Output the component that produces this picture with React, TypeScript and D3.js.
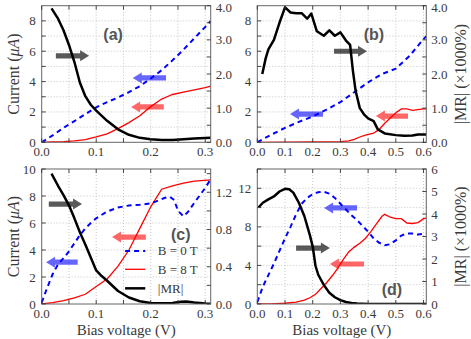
import React from 'react';
import * as d3 from 'd3';

type Pt = [number, number];

// ---------- Panel (a) ----------
const aB0: Pt[] = [[0,0],[0.02,0.45],[0.04,0.95],[0.06,1.4],[0.08,1.85],[0.10,2.3],[0.12,2.65],[0.14,2.95],[0.16,3.3],[0.18,3.7],[0.20,4.2],[0.22,4.75],[0.24,5.4],[0.26,6.1],[0.28,6.85],[0.30,7.6],[0.31,8.0]];
const aB8: Pt[] = [[0,0],[0.02,0.02],[0.04,0.05],[0.06,0.1],[0.08,0.18],[0.10,0.35],[0.12,0.55],[0.14,0.9],[0.16,1.3],[0.18,1.75],[0.20,2.35],[0.22,2.85],[0.23,3.0],[0.24,3.15],[0.26,3.3],[0.28,3.45],[0.30,3.6],[0.31,3.7]];
const aMR: Pt[] = [[0.018,3.92],[0.03,3.62],[0.04,3.28],[0.05,2.85],[0.06,2.35],[0.07,1.75],[0.08,1.35],[0.09,1.1],[0.10,0.93],[0.12,0.63],[0.14,0.38],[0.16,0.22],[0.18,0.13],[0.20,0.09],[0.22,0.07],[0.24,0.07],[0.26,0.09],[0.28,0.11],[0.31,0.13]];

// ---------- Panel (b) ----------
const bB0: Pt[] = [[0,0],[0.05,0.5],[0.1,0.95],[0.15,1.35],[0.2,1.7],[0.25,2.15],[0.3,2.65],[0.35,3.3],[0.4,3.95],[0.45,4.5],[0.5,4.85],[0.55,5.7],[0.6,6.8],[0.61,7.0]];
const bB8: Pt[] = [[0,0],[0.1,0.01],[0.2,0.02],[0.3,0.05],[0.33,0.1],[0.35,0.2],[0.37,0.35],[0.39,0.48],[0.42,0.6],[0.44,0.85],[0.46,1.25],[0.48,1.6],[0.50,1.95],[0.52,2.2],[0.54,2.2],[0.56,2.1],[0.58,2.15],[0.60,2.2],[0.61,2.2]];
const bMR: Pt[] = [[0.018,2.0],[0.03,2.45],[0.04,2.72],[0.06,3.0],[0.08,3.5],[0.10,3.95],[0.12,3.8],[0.14,3.78],[0.16,3.78],[0.18,3.62],[0.195,3.77],[0.215,3.25],[0.24,3.12],[0.26,3.28],[0.28,3.12],[0.30,3.22],[0.32,2.98],[0.335,2.85],[0.345,2.1],[0.355,1.5],[0.37,1.0],[0.385,0.82],[0.40,0.7],[0.42,0.62],[0.435,0.38],[0.46,0.26],[0.50,0.21],[0.53,0.19],[0.56,0.2],[0.58,0.23],[0.61,0.23]];

// ---------- Panel (c) ----------
const cB0: Pt[] = [[0,0.1],[0.01,1.2],[0.02,2.2],[0.03,2.95],[0.04,3.4],[0.05,3.9],[0.06,4.5],[0.07,5.1],[0.08,5.6],[0.09,6.0],[0.10,6.35],[0.12,6.85],[0.14,7.15],[0.16,7.3],[0.18,7.35],[0.20,7.45],[0.21,7.6],[0.225,7.85],[0.235,7.95],[0.243,7.7],[0.25,6.9],[0.26,6.5],[0.268,6.8],[0.28,7.5],[0.29,8.05],[0.30,8.6],[0.31,9.25]];
const cB8: Pt[] = [[0,0],[0.02,0.1],[0.04,0.25],[0.06,0.45],[0.08,0.72],[0.10,1.3],[0.12,1.85],[0.14,2.8],[0.16,4.0],[0.18,5.6],[0.20,7.2],[0.22,8.5],[0.24,8.75],[0.26,8.95],[0.28,9.1],[0.31,9.2]];
const cMR: Pt[] = [[0.018,1.4],[0.03,1.27],[0.04,1.17],[0.05,1.06],[0.06,0.92],[0.07,0.77],[0.08,0.64],[0.09,0.5],[0.10,0.36],[0.11,0.3],[0.12,0.25],[0.14,0.14],[0.16,0.07],[0.18,0.03],[0.20,0.01],[0.22,0.008],[0.24,0.012],[0.255,0.025],[0.265,0.028],[0.28,0.015],[0.30,0.005],[0.31,0.003]];

// ---------- Panel (d) ----------
const dB0: Pt[] = [[0,0.2],[0.02,1.8],[0.04,3.0],[0.06,4.2],[0.08,5.5],[0.10,6.8],[0.12,8.0],[0.14,9.3],[0.16,10.4],[0.18,11.0],[0.20,11.4],[0.22,11.6],[0.24,11.65],[0.26,11.45],[0.28,11.0],[0.30,10.4],[0.32,9.8],[0.34,9.2],[0.36,8.7],[0.38,8.1],[0.40,7.5],[0.42,6.8],[0.44,6.35],[0.46,6.1],[0.48,6.2],[0.50,6.6],[0.52,7.1],[0.54,7.3],[0.56,7.3],[0.58,7.2],[0.60,7.3],[0.61,7.3]];
const dB8: Pt[] = [[0,0],[0.05,0.02],[0.10,0.08],[0.14,0.2],[0.17,0.4],[0.19,0.65],[0.21,1.0],[0.23,1.6],[0.25,2.2],[0.27,2.9],[0.29,3.7],[0.31,4.6],[0.33,5.4],[0.35,5.9],[0.37,6.3],[0.39,6.8],[0.41,7.5],[0.43,8.3],[0.45,9.1],[0.46,9.3],[0.48,9.0],[0.50,8.85],[0.52,8.85],[0.54,8.4],[0.56,8.35],[0.58,8.45],[0.60,8.85],[0.61,8.9]];
const dMR: Pt[] = [[0.005,4.3],[0.02,4.5],[0.04,4.65],[0.06,4.78],[0.08,5.0],[0.10,5.12],[0.115,5.1],[0.13,4.95],[0.15,4.5],[0.17,3.9],[0.19,3.05],[0.20,2.55],[0.21,1.7],[0.22,1.3],[0.24,0.85],[0.26,0.5],[0.28,0.3],[0.30,0.17],[0.32,0.09],[0.34,0.05],[0.36,0.02],[0.40,0.0],[0.50,0.0],[0.61,0.0]];

// ---------- Ticks ----------
const xTicksShort = [0, 0.05, 0.1, 0.15, 0.2, 0.25, 0.3];
const xLabelsShort = [0, 0.1, 0.2, 0.3];
const xTicksLong = [0, 0.1, 0.2, 0.3, 0.4, 0.5, 0.6];
const xLabelsLong = [0, 0.1, 0.2, 0.3, 0.4, 0.5, 0.6];
const yTicksTop = [0, 1, 2, 3, 4, 5, 6, 7, 8];
const yLabelsTop = [0, 2, 4, 6, 8];
const rTicksTop = [0, 0.5, 1, 1.5, 2, 2.5, 3, 3.5, 4];
const rLabelsTop = [0, 1, 2, 3, 4];
const yTicksC = [0, 2, 4, 6, 8, 10];
const yLabelsC = [0, 2, 4, 6, 8, 10];
const rTicksC = [0, 0.2, 0.4, 0.6, 0.8, 1.0, 1.2, 1.4];
const rLabelsC = [0, 0.4, 0.8, 1.2];
const yTicksD = [0, 2, 4, 6, 8, 10, 12, 14];
const yLabelsD = [0, 4, 8, 12];
const rTicksD = [0, 1, 2, 3, 4, 5, 6];
const rLabelsD = [0, 1, 2, 3, 4, 5, 6];

// arrows: [tailX, headX, yLeft, kind]
type Arrow = [number, number, number, 'g' | 'b' | 'r'];
const arrowsA: Arrow[] = [[0.026, 0.087, 5.7, 'g'], [0.228, 0.167, 4.24, 'b'], [0.224, 0.164, 2.33, 'r']];
const arrowsB: Arrow[] = [[0.277, 0.396, 6.0, 'g'], [0.237, 0.118, 1.86, 'b'], [0.544, 0.428, 1.73, 'r']];
const arrowsC: Arrow[] = [[0.013, 0.074, 7.4, 'g'], [0.191, 0.129, 4.96, 'r'], [0.066, 0.008, 3.1, 'b']];
const arrowsD: Arrow[] = [[0.14, 0.262, 5.8, 'g'], [0.36, 0.241, 9.96, 'b'], [0.385, 0.262, 4.15, 'r']];

const legendLabels = ['B = 0 T', 'B = 8 T', '|MR|'];

const SERIF = '"Liberation Serif", "Times New Roman", serif';
const SANS = '"Liberation Sans", Arial, sans-serif';
const TXT = '#3a3a3a';

interface PanelCfg {
  id: string; label: string; labelPos: Pt;
  x0: number; x1: number; y0: number; y1: number;
  xMax: number; yMax: number; rMax: number;
  xTicks: number[]; xLabels: number[]; xGrid: number[];
  yTicks: number[]; yLabels: number[]; yGrid: number[];
  rTicks: number[]; rLabels: number[]; rFmt: (v: number) => string;
  b0: Pt[]; b8: Pt[]; mr: Pt[]; arrows: Arrow[];
  leftTitle: boolean; rightTitle: boolean; bottomTitle: boolean; legend: boolean;
}

const f1 = d3.format('.1f');
const f0 = d3.format('d');

const panels: PanelCfg[] = [
  { id: 'a', label: '(a)', labelPos: [0.131, 7.1], x0: 41.7, x1: 210.7, y0: 5.7, y1: 142.3, xMax: 0.31, yMax: 9, rMax: 4,
    xTicks: xTicksShort, xLabels: xLabelsShort, xGrid: xTicksShort, yTicks: yTicksTop, yLabels: yLabelsTop, yGrid: yTicksTop,
    rTicks: rTicksTop, rLabels: rLabelsTop, rFmt: f1, b0: aB0, b8: aB8, mr: aMR, arrows: arrowsA,
    leftTitle: true, rightTitle: false, bottomTitle: false, legend: false },
  { id: 'b', label: '(b)', labelPos: [0.421, 7.1], x0: 257.3, x1: 426.3, y0: 5.7, y1: 142.3, xMax: 0.61, yMax: 9, rMax: 4,
    xTicks: xTicksLong, xLabels: xLabelsLong, xGrid: xTicksLong, yTicks: yTicksTop, yLabels: yLabelsTop, yGrid: yTicksTop,
    rTicks: rTicksTop, rLabels: rLabelsTop, rFmt: f1, b0: bB0, b8: bB8, mr: bMR, arrows: arrowsB,
    leftTitle: false, rightTitle: true, bottomTitle: false, legend: false },
  { id: 'c', label: '(c)', labelPos: [0.255, 5.15], x0: 41.7, x1: 210.7, y0: 169, y1: 304, xMax: 0.31, yMax: 10, rMax: 1.45,
    xTicks: xTicksShort, xLabels: xLabelsShort, xGrid: xTicksShort, yTicks: yTicksC, yLabels: yLabelsC, yGrid: yTicksC,
    rTicks: rTicksC, rLabels: rLabelsC, rFmt: f1, b0: cB0, b8: cB8, mr: cMR, arrows: arrowsC,
    leftTitle: true, rightTitle: false, bottomTitle: true, legend: true },
  { id: 'd', label: '(d)', labelPos: [0.486, 1.5], x0: 257.3, x1: 426.3, y0: 169, y1: 304, xMax: 0.61, yMax: 14, rMax: 6,
    xTicks: xTicksLong, xLabels: xLabelsLong, xGrid: xTicksLong, yTicks: yTicksD, yLabels: yLabelsD, yGrid: yTicksD,
    rTicks: rTicksD, rLabels: rLabelsD, rFmt: f0, b0: dB0, b8: dB8, mr: dMR, arrows: arrowsD,
    leftTitle: false, rightTitle: true, bottomTitle: true, legend: false },
];

const arrowFill: Record<string, [string, number]> = { g: ['#000000', 0.65], b: ['#0000ff', 0.6], r: ['#ff0000', 0.6] };

function arrowPath(xt: number, xh: number, y: number): string {
  const dir = xh > xt ? 1 : -1;
  const hl = 9, hw = 5.5, sw = 2.6;
  const xb = xh - dir * hl;
  return `M${xt},${y - sw}L${xb},${y - sw}L${xb},${y - hw}L${xh},${y}L${xb},${y + hw}L${xb},${y + sw}L${xt},${y + sw}Z`;
}

function Panel({ p }: { p: PanelCfg }) {
  const x = d3.scaleLinear().domain([0, p.xMax]).range([p.x0, p.x1]);
  const y = d3.scaleLinear().domain([0, p.yMax]).range([p.y1, p.y0]);
  const r = d3.scaleLinear().domain([0, p.rMax]).range([p.y1, p.y0]);
  const lineL = d3.line<Pt>().x(d => x(d[0])).y(d => y(d[1]));
  const lineR = d3.line<Pt>().x(d => x(d[0])).y(d => r(d[1]));
  const clipId = `clip-${p.id}`;
  const tl = 4;
  const midY = (p.y0 + p.y1) / 2;
  const clampY = (v: number) => Math.max(v, 7);
  return (
    <g>
      <defs>
        <clipPath id={clipId}><rect x={p.x0} y={p.y0} width={p.x1 - p.x0} height={p.y1 - p.y0} /></clipPath>
      </defs>
      {/* grid */}
      <g stroke="#b8b8b8" strokeWidth={0.8} strokeDasharray="1,2">
        {p.xGrid.filter(v => v > 0 && v < p.xMax).map(v => <line key={'gx' + v} x1={x(v)} x2={x(v)} y1={p.y0} y2={p.y1} />)}
        {p.yGrid.filter(v => v > 0 && v < p.yMax).map(v => <line key={'gy' + v} x1={p.x0} x2={p.x1} y1={y(v)} y2={y(v)} />)}
      </g>
      {/* data */}
      <g clipPath={`url(#${clipId})`} fill="none">
        <path d={lineL(p.b8) || ''} stroke="#ff0000" strokeWidth={1.3} />
        <path d={lineL(p.b0) || ''} stroke="#0000ff" strokeWidth={2} strokeDasharray="5,4" />
        <path d={lineR(p.mr) || ''} stroke="#000000" strokeWidth={2.5} strokeLinejoin="round" />
      </g>
      {/* arrows */}
      {p.arrows.map((a, i) => (
        <path key={'ar' + i} d={arrowPath(x(a[0]), x(a[1]), y(a[2]))} fill={arrowFill[a[3]][0]} fillOpacity={arrowFill[a[3]][1]} />
      ))}
      {/* panel label */}
      <text x={x(p.labelPos[0])} y={y(p.labelPos[1])} fontFamily={SANS} fontWeight="bold" fontSize={16} fill="#555" textAnchor="middle" dominantBaseline="central">{p.label}</text>
      {/* legend */}
      {p.legend && (
        <g>
          {legendLabels.map((t, i) => {
            const ly = y([3.93, 2.57, 1.16][i]);
            const st = [
              { stroke: '#0000ff', sw: 2, dash: '5,4' },
              { stroke: '#ff0000', sw: 1.3, dash: undefined },
              { stroke: '#000000', sw: 2.5, dash: undefined },
            ][i];
            return (
              <g key={'lg' + i}>
                <line x1={x(0.153)} x2={x(0.19)} y1={ly} y2={ly} stroke={st.stroke} strokeWidth={st.sw} strokeDasharray={st.dash} />
                <text x={x(0.213)} y={ly} fontFamily={SERIF} fontSize={13} fill={TXT} dominantBaseline="central">{t}</text>
              </g>
            );
          })}
        </g>
      )}
      {/* frame */}
      <rect x={p.x0} y={p.y0} width={p.x1 - p.x0} height={p.y1 - p.y0} fill="none" stroke="#666" strokeWidth={1} />
      {/* ticks */}
      <g stroke="#333" strokeWidth={0.9}>
        {p.xTicks.map(v => (
          <g key={'tx' + v}>
            <line x1={x(v)} x2={x(v)} y1={p.y1} y2={p.y1 - tl} />
            <line x1={x(v)} x2={x(v)} y1={p.y0} y2={p.y0 + tl} />
          </g>
        ))}
        {p.yTicks.map(v => <line key={'ty' + v} x1={p.x0} x2={p.x0 + tl} y1={y(v)} y2={y(v)} />)}
        {p.rTicks.map(v => <line key={'tr' + v} x1={p.x1} x2={p.x1 - tl} y1={r(v)} y2={r(v)} />)}
      </g>
      {/* tick labels */}
      <g fontFamily={SERIF} fontSize={13} fill={TXT}>
        {p.xLabels.map(v => <text key={'lx' + v} x={x(v)} y={p.y1 + 13.8} textAnchor="middle">{f1(v)}</text>)}
        {p.yLabels.map(v => <text key={'ly' + v} x={p.x0 - 6} y={clampY(y(v))} textAnchor="end" dominantBaseline="central">{f0(v)}</text>)}
        {p.rLabels.map(v => <text key={'lr' + v} x={p.x1 + 5} y={clampY(r(v))} textAnchor="start" dominantBaseline="central">{p.rFmt(v)}</text>)}
      </g>
      {/* axis titles */}
      {p.leftTitle && (
        <text transform={`translate(13,${midY}) rotate(-90)`} textAnchor="middle" dominantBaseline="central" fontFamily={SERIF} fontSize={16} fill={TXT}>
          Current (<tspan fontStyle="italic">μA</tspan>)
        </text>
      )}
      {p.rightTitle && (
        <text transform={`translate(460,${midY}) rotate(-90)`} textAnchor="middle" dominantBaseline="central" fontFamily={SERIF} fontSize={16} fill={TXT}>
          |MR| (×1000%)
        </text>
      )}
      {p.bottomTitle && (
        <text x={(p.x0 + p.x1) / 2} y={334.5} textAnchor="middle" fontFamily={SERIF} fontSize={15} fill={TXT}>Bias voltage (V)</text>
      )}
    </g>
  );
}

export default function App() {
  return (
    <svg width={471} height={339} style={{ position: 'absolute', left: 0, top: 0, background: '#fff' }}>
      <rect x={0} y={0} width={471} height={339} fill="#fff" />
      {panels.map(p => <Panel key={p.id} p={p} />)}
    </svg>
  );
}
